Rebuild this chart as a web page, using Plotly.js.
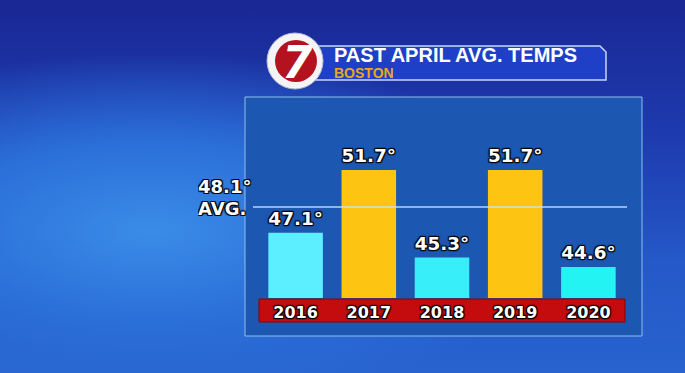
<!DOCTYPE html>
<html>
<head>
<meta charset="utf-8">
<script src="https://cdn.plot.ly/plotly-3.0.1.min.js"></script>
<style>
  html, body { margin:0; padding:0; width:685px; height:373px; overflow:hidden; }
  body {
    background:
      radial-gradient(ellipse 75% 60% at 22% 62%, #3a8ce8 0%, #2b6fd8 40%, rgba(30,62,176,0) 80%),
      linear-gradient(180deg, #1a2794 0%, #1d3aae 35%, #2558c8 70%, #2863cf 100%);
  }
  #chart { width:685px; height:373px; }
</style>
</head>
<body>
<div id="chart"></div>
<script>
// ---- data ----
const years = ['2016', '2017', '2018', '2019', '2020'];
const temps = [47.1, 51.7, 45.3, 51.7, 44.6];
const avgTemp = 48.1;
const titleText = 'PAST APRIL AVG. TEMPS';
const subtitleText = 'BOSTON';

// ---- style ----
const barColors = temps.map((v, i) => v > avgTemp ? '#fdc412' : ['#5cefff', '#38eff9', '#38eff9', '#38eff9', '#24f3f3'][i]);

// pixel helpers (plot area: x 259..625, y 97..298)
const L = 259, R = 625, T = 97, B = 298;
const px = x => (x - L) / (R - L);
const py = y => (B - y) / (B - T);

const outline = '0px 0px 2px #000, 1px 1px 1px #000, -1px -1px 1px #000, 1px -1px 1px #000, -1px 1px 1px #000';

const trace = {
  type: 'bar',
  x: years,
  y: temps,
  marker: { color: barColors, line: { width: 0 } },
  text: temps.map(v => v.toFixed(1) + '°'),
  textposition: 'outside',
  textfont: { family: 'DejaVu Sans', size: 20, color: '#ffffff', weight: 'bold', shadow: outline },
  cliponaxis: false,
  hoverinfo: 'none'
};

const shapes = [
  // panel
  { type: 'rect', xref: 'paper', yref: 'paper', x0: px(245), x1: px(642), y0: py(336), y1: py(97),
    fillcolor: '#1c58b2', line: { color: '#8fbcf0', width: 1 }, layer: 'below' },
  // red year band
  { type: 'rect', xref: 'paper', yref: 'paper', x0: px(259), x1: px(625), y0: py(322), y1: py(299),
    fillcolor: '#c40c0e', line: { color: '#7a0608', width: 1 }, layer: 'below' },
  // header bar
  { type: 'path', xref: 'paper', yref: 'paper', layer: 'below',
    path: `M ${px(316)} ${py(46)} L ${px(600)} ${py(46)} L ${px(606)} ${py(52)} L ${px(606)} ${py(80)} L ${px(316)} ${py(80)} Z`,
    fillcolor: '#1e3fc6', line: { color: '#c8d4ff', width: 1.5 } },
  // logo
  { type: 'circle', xref: 'paper', yref: 'paper', x0: px(267), x1: px(323), y0: py(89), y1: py(33),
    fillcolor: '#f4f4f6', line: { color: '#b8bccc', width: 1 }, layer: 'below' },
  { type: 'circle', xref: 'paper', yref: 'paper', x0: px(275), x1: px(317), y0: py(82), y1: py(40),
    fillcolor: '#b4121e', line: { width: 0 }, layer: 'below' },
  // average line
  { type: 'line', xref: 'paper', yref: 'y2', x0: px(253), x1: px(627), y0: avgTemp, y1: avgTemp,
    line: { color: 'rgba(200,225,255,0.9)', width: 1.5 }, layer: 'above' }
];

const annotations = [
  { xref: 'paper', yref: 'paper', x: px(297), y: py(62), text: '7', showarrow: false,
    xanchor: 'center', yanchor: 'middle',
    font: { family: 'DejaVu Sans', size: 44, color: '#ffffff', weight: 'bold', style: 'italic' } },
  { xref: 'paper', yref: 'paper', x: px(332), y: py(55), text: titleText, showarrow: false,
    xanchor: 'left', yanchor: 'middle', height: 18,
    font: { family: 'Liberation Sans', size: 20, color: '#ffffff', weight: 'bold' } },
  { xref: 'paper', yref: 'paper', x: px(332), y: py(72), text: subtitleText, showarrow: false,
    xanchor: 'left', yanchor: 'middle', height: 13,
    font: { family: 'Liberation Sans', size: 14, color: '#e8a91c', weight: 'bold' } },
  { xref: 'paper', yref: 'y2', x: px(196), y: avgTemp, yshift: 21, text: avgTemp.toFixed(1) + '°', showarrow: false,
    xanchor: 'left', yanchor: 'middle', height: 15,
    font: { family: 'DejaVu Sans', size: 18, color: '#ffffff', weight: 'bold', shadow: outline } },
  { xref: 'paper', yref: 'y2', x: px(196), y: avgTemp, yshift: -1, text: 'AVG.', showarrow: false,
    xanchor: 'left', yanchor: 'middle', height: 15,
    font: { family: 'DejaVu Sans', size: 18, color: '#ffffff', weight: 'bold', shadow: outline } }
];

const layout = {
  width: 685, height: 373, autosize: false,
  margin: { l: L, r: 685 - R, t: T, b: 373 - B, pad: 0 },
  paper_bgcolor: 'rgba(0,0,0,0)',
  plot_bgcolor: 'rgba(0,0,0,0)',
  showlegend: false,
  bargap: 0.255,
  xaxis: {
    type: 'category', range: [-0.5, 4.5], showgrid: false, zeroline: false, showline: false,
    ticks: '', fixedrange: true, ticklabelstandoff: 3,
    tickfont: { family: 'DejaVu Sans', size: 16, color: '#ffffff', weight: 'bold', shadow: outline }
  },
  yaxis: { range: [42.33, 57.04], visible: false, showgrid: false, zeroline: false, fixedrange: true },
  yaxis2: { range: [42.33, 55.08], overlaying: 'y', visible: false, showgrid: false, zeroline: false, fixedrange: true },
  shapes: shapes,
  annotations: annotations
};

Plotly.newPlot('chart', [trace], layout, { displayModeBar: false, staticPlot: true });
</script>
</body>
</html>
